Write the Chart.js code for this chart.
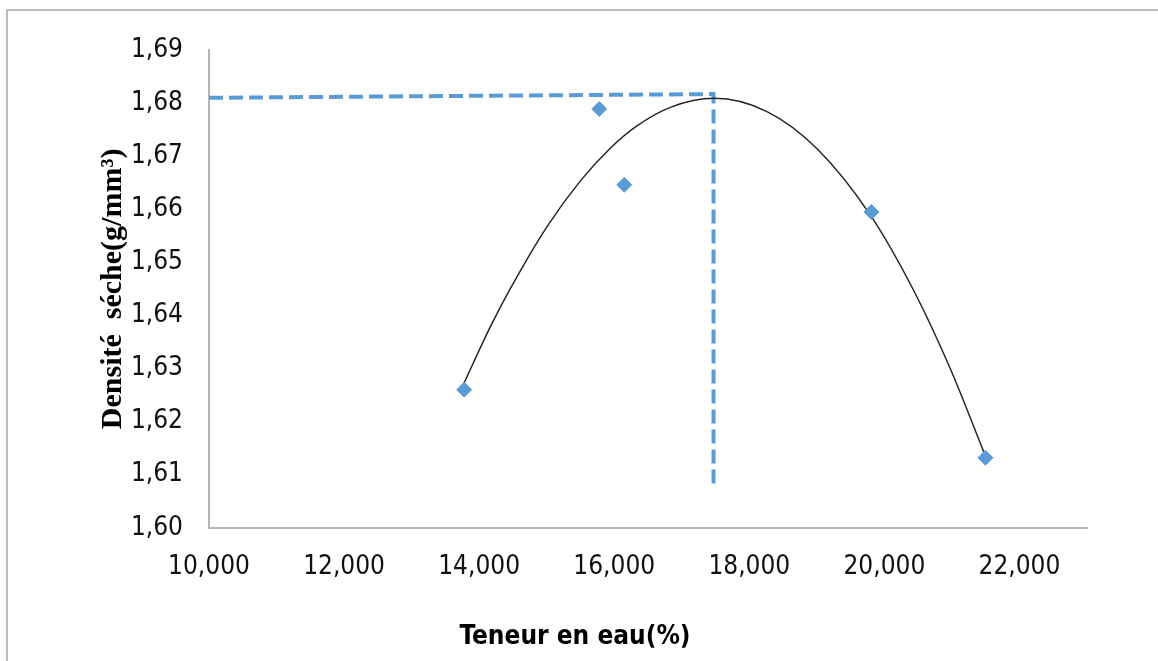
<!DOCTYPE html>
<html lang="fr">
<head>
  <meta charset="UTF-8">
  <title>Densité sèche - Teneur en eau</title>
  <script src="https://cdn.jsdelivr.net/npm/chart.js@4.4.1/dist/chart.umd.min.js"></script>
  <style>
    html, body {
      margin: 0;
      padding: 0;
      background: #fff;
      overflow: hidden;
    }

    .frame {
      position: absolute;
      left: 6px;
      top: 9px;
      width: 1200px;
      height: 700px;
      border: 2px solid #bdbdbd;
    }

    .wrap {
      position: absolute;
      left: 0;
      top: 0;
      width: 1158px;
      height: 661px;
    }
  </style>
</head>
<body>
  <div class="frame"></div>
  <div class="wrap">
    <canvas id="proctor" width="1158" height="661"></canvas>
  </div>
  <script>
    // mesures (teneur en eau %, densité sèche)
    const teneurEau = [13.778, 15.778, 16.148, 19.807, 21.496];
    const densite = [1.6260, 1.6789, 1.6646, 1.6595, 1.6132];

    // courbe de tendance
    const courbeX = [13.763, 14.163, 14.459, 15.003, 15.496, 15.941, 16.336, 16.830, 17.481, 18.262, 19.003, 19.793, 20.434, 20.978, 21.471];
    const courbeY = [1.6269, 1.6378, 1.6450, 1.6567, 1.6653, 1.6715, 1.6757, 1.6792, 1.6809, 1.6784, 1.6714, 1.6589, 1.6447, 1.6299, 1.6143];

    // lignes de lecture de l'optimum
    const lectureX = [10.000, 17.470, 17.470];
    const lectureY = [1.6810, 1.6817, 1.6073];

    const xMin = 10, xMax = 23, xPas = 2;
    const yMin = 1.60, yMax = 1.69, yPas = 0.01;

    const bleu = '#5b9bd5';
    const policeTicks = "'Liberation Sans Narrow', 'DejaVu Sans Condensed', 'Liberation Sans', sans-serif";
    const virgule = (v, d) => v.toFixed(d).replace('.', ',');

    const ctx = document.getElementById('proctor').getContext('2d');
    new Chart(ctx, {
      type: 'scatter',
      data: {
        datasets: [
          {
            label: 'Mesures',
            data: teneurEau.map((x, i) => ({ x: x, y: densite[i] })),
            pointStyle: 'rectRot',
            pointRadius: 7.5,
            pointBorderWidth: 1,
            backgroundColor: bleu,
            borderColor: bleu,
            order: 0
          },
          {
            label: 'Tendance',
            type: 'line',
            data: courbeX.map((x, i) => ({ x: x, y: courbeY[i] })),
            borderColor: '#262626',
            borderWidth: 1.5,
            pointRadius: 0,
            cubicInterpolationMode: 'monotone',
            fill: false,
            order: 1
          },
          {
            label: 'Optimum',
            type: 'line',
            data: lectureX.map((x, i) => ({ x: x, y: lectureY[i] })),
            borderColor: bleu,
            borderWidth: 4,
            borderDash: [14, 6],
            pointRadius: 0,
            tension: 0,
            fill: false,
            order: 2
          }
        ]
      },
      options: {
        responsive: false,
        animation: false,
        layout: {
          padding: { left: 0, top: 50, right: 8, bottom: 0 }
        },
        plugins: {
          legend: { display: false },
          tooltip: { enabled: false },
          title: {
            display: true,
            position: 'bottom',
            text: 'Teneur en eau(%)',
            color: '#000',
            padding: { top: 0, bottom: 8 },
            font: { family: policeTicks, size: 26, weight: 'bold' }
          }
        },
        scales: {
          x: {
            type: 'linear',
            min: xMin,
            max: xMax,
            afterBuildTicks: function(scale) {
              scale.ticks = scale.ticks.filter(t => Math.abs((t.value - xMin) / xPas - Math.round((t.value - xMin) / xPas)) < 1e-6);
            },
            afterFit: function(scale) {
              scale.height = 94;
            },
            grid: { display: false, drawTicks: false },
            border: { display: true, color: '#b5b5b5', width: 2 },
            ticks: {
              stepSize: xPas,
              padding: 24,
              color: '#111',
              font: { family: policeTicks, size: 26 },
              callback: v => virgule(v, 3)
            }
          },
          y: {
            type: 'linear',
            min: yMin,
            max: yMax,
            afterFit: function(scale) {
              scale.width = 209;
            },
            grid: { display: false, drawTicks: false },
            border: { display: true, color: '#b5b5b5', width: 2 },
            ticks: {
              stepSize: yPas,
              padding: 26,
              color: '#111',
              font: { family: policeTicks, size: 26 },
              callback: v => virgule(v, 2)
            },
            title: {
              display: true,
              text: 'Densité  séche(g/mm³)',
              color: '#000',
              padding: { top: 95, bottom: 0 },
              font: { family: "'Liberation Serif', 'DejaVu Serif', serif", size: 30, weight: 'bold' }
            }
          },
          marge: {
            type: 'linear',
            position: 'right',
            afterFit: function(scale) {
              scale.width = 63;
            },
            grid: { display: false, drawTicks: false },
            border: { display: false },
            ticks: { display: false }
          }
        }
      }
    });
  </script>
</body>
</html>
